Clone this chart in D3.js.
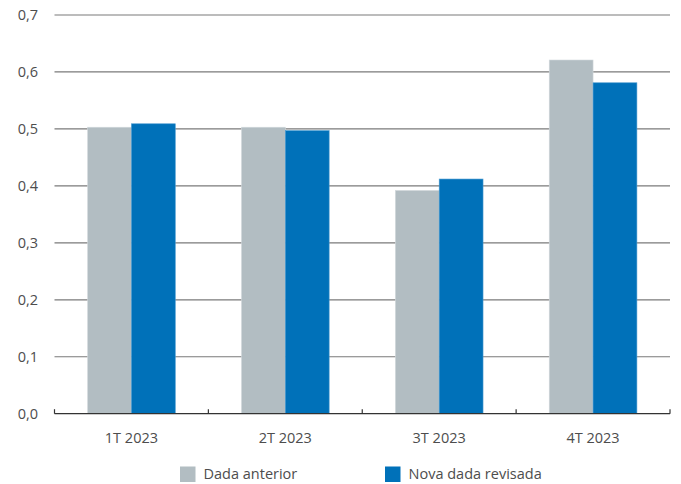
<!DOCTYPE html>
<html>
<head>
<meta charset="utf-8">
<script src="https://cdn.jsdelivr.net/npm/d3@7"></script>
<style>
  body { margin: 0; background: #fff; }
  svg text { font-family: "Open Sans", "Noto Sans", sans-serif; fill: #4d4d4d; }
</style>
</head>
<body>
<svg id="chart" width="681" height="484"></svg>
<script>
// Quarters shown on the x axis
const categories = ["1T 2023", "2T 2023", "3T 2023", "4T 2023"];
// Series names and values
const seriesNames = ["Dada anterior", "Nova dada revisada"];
const previousValues = [0.503, 0.503, 0.392, 0.621];
const revisedValues = [0.509, 0.497, 0.412, 0.581];
const yTicks = [0, 0.1, 0.2, 0.3, 0.4, 0.5, 0.6, 0.7];
const colors = ["#b2bdc2", "#0071b9"];

const svg = d3.select("#chart");
const margin = { left: 54.5, right: 11, top: 15, bottom: 70.3 };
const W = 681, H = 484;

const x = d3.scaleBand().domain(categories)
  .range([margin.left, W - margin.right]).paddingInner(0).paddingOuter(0);
const y = d3.scaleLinear().domain([0, 0.7]).range([H - margin.bottom, margin.top]);
const xs = d3.scaleBand().domain(seriesNames).range([0, x.bandwidth()]).paddingOuter(0.755).paddingInner(0);

const fmt = v => d3.format(".1f")(v).replace(".", ",");

// Horizontal gridlines
svg.append("g").selectAll("line").data(yTicks.filter(t => t > 0)).join("line")
  .attr("x1", margin.left).attr("x2", W - margin.right)
  .attr("y1", d => y(d)).attr("y2", d => y(d))
  .attr("stroke", "#7a7a7a").attr("stroke-width", 1.2);

// Y tick labels
svg.append("g").selectAll("text").data(yTicks).join("text")
  .attr("x", 38).attr("y", d => y(d)).attr("dy", "0.35em")
  .attr("text-anchor", "end").attr("font-size", 14.5)
  .text(fmt);

// Bars
const rows = categories.map((c, i) => ({ c, vals: [previousValues[i], revisedValues[i]] }));
const groups = svg.append("g").selectAll("g").data(rows).join("g")
  .attr("transform", d => `translate(${x(d.c)},0)`);
groups.selectAll("rect").data(d => d.vals.map((v, j) => ({ v, j }))).join("rect")
  .attr("x", d => xs(seriesNames[d.j]))
  .attr("width", xs.bandwidth())
  .attr("y", d => y(d.v))
  .attr("height", d => y(0) - y(d.v))
  .attr("fill", d => colors[d.j])
  .attr("stroke", d => d.j === 0 ? "#d3dadd" : "#4a9ad0")
  .attr("stroke-width", 0.6);

// Baseline axis with upward ticks at band boundaries
const base = y(0);
svg.append("line").attr("x1", margin.left).attr("x2", W - margin.right)
  .attr("y1", base).attr("y2", base).attr("stroke", "#333").attr("stroke-width", 1.3);
const bounds = categories.map(c => x(c)).concat([W - margin.right]);
svg.append("g").selectAll("line").data(bounds).join("line")
  .attr("x1", d => d).attr("x2", d => d)
  .attr("y1", base).attr("y2", base - 4.5)
  .attr("stroke", "#333").attr("stroke-width", 1.2);

// Category labels
svg.append("g").selectAll("text").data(categories).join("text")
  .attr("x", d => x(d) + x.bandwidth() / 2).attr("y", 443)
  .attr("text-anchor", "middle").attr("font-size", 14.5)
  .text(d => d);

// Legend
const legendX = [180, 385];
const legend = svg.append("g").selectAll("g").data(seriesNames).join("g")
  .attr("transform", (d, i) => `translate(${legendX[i]},466.5)`);
legend.append("rect").attr("width", 15.5).attr("height", 15.5)
  .attr("fill", (d, i) => colors[i]);
legend.append("text").attr("x", 23.5).attr("y", 12.5)
  .attr("font-size", 14.5).text(d => d);
</script>
</body>
</html>
